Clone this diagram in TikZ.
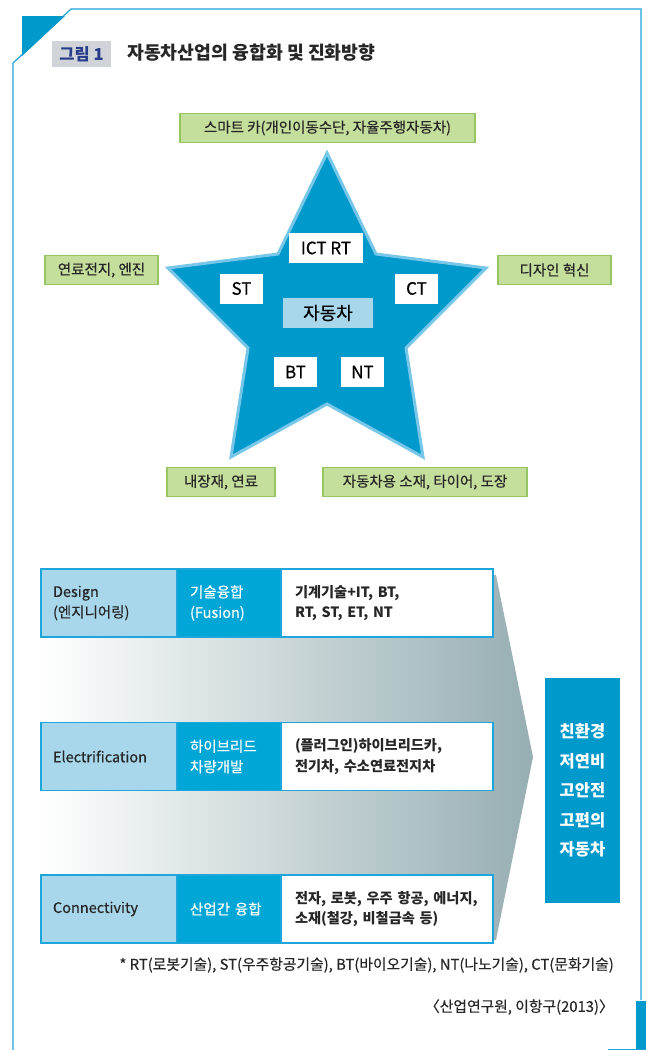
\documentclass[tikz,border=0pt]{standalone}
\usepackage{fontspec}
\setmainfont{Noto Sans CJK KR}
\newfontfamily\medfont{Noto Sans CJK KR}[FakeBold=0.4]
\usepackage{tikz}
\usetikzlibrary{calc}
\usetikzlibrary{positioning}
\tikzset{>=latex}

\definecolor{frameblue}{RGB}{30,165,220}
\definecolor{deepblue}{RGB}{0,153,204}
\definecolor{starline}{RGB}{120,198,232}
\definecolor{paleblue}{RGB}{168,215,236}
\definecolor{midblue}{RGB}{0,166,214}
\definecolor{leafgreen}{RGB}{196,222,156}
\definecolor{leafedge}{RGB}{150,198,100}
\definecolor{arrowgrey}{RGB}{150,174,178}
\definecolor{titlegrey}{RGB}{208,211,215}
\definecolor{titlenavy}{RGB}{40,60,140}

\tikzset{greenbox/.style = {fill=leafgreen, draw=leafedge, line width=1.5pt, minimum height=29pt, inner sep=0pt, font=\fontsize{14.5}{16}\selectfont\medfont, text=black!85}}
\tikzset{techbox/.style = {fill=white, minimum width=43pt, minimum height=30pt, inner sep=0pt, font=\fontsize{17}{18}\selectfont\medfont}}
\tikzset{cella/.style = {fill=paleblue, draw=frameblue, line width=1.2pt, outer sep=0pt, minimum height=68pt, text width=112pt, inner xsep=12pt, align=left, font=\fontsize{14.5}{20.5}\selectfont\medfont, text=black!85}}
\tikzset{cellb/.style = {fill=midblue, draw=frameblue, line width=1.2pt, outer sep=0pt, minimum height=68pt, text width=78pt, inner xsep=13pt, align=left, font=\fontsize{14.5}{20.5}\selectfont\medfont, text=white}}
\tikzset{cellc/.style = {fill=white, draw=frameblue, line width=1.2pt, outer sep=0pt, minimum height=68pt, text width=184pt, inner xsep=14pt, align=left, font=\fontsize{14.2}{20.5}\selectfont\bfseries, text=black!85}}

\begin{document}
\begin{tikzpicture}[x=1pt, y=-1pt]
                    \useasboundingbox (0,0) rectangle (646,1050);

                    % Frame
                    \draw [frameblue, line width=1.2pt] (641,1000) -- (641,9) -- (71,9) -- (13,63) -- (13,1050);
                    \fill [deepblue] (22,16) -- (65,16) -- (22,56) -- cycle;
                    \fill [deepblue] (636,1001) rectangle (646,1050);
                    \draw [frameblue, thin] (608,1049.5) -- (646,1049.5);

                    % Title
                    \node [fill=titlegrey, minimum width=59pt, minimum height=26pt, inner sep=0pt, text=titlenavy, font=\fontsize{16.5}{18}\selectfont\bfseries] (fig) at (81.5,54) {그림 1};
                    \node [anchor=west, inner sep=0pt, font=\fontsize{18.3}{20}\selectfont\bfseries, text=black!85] (title) at (127,53) {자동차산업의 융합화 및 진화방향};

                    % Star
                    \coordinate (s1) at (327,153);
                    \coordinate (s2) at (376,254);
                    \coordinate (s3) at (486,268);
                    \coordinate (s4) at (406,348);
                    \coordinate (s5) at (423,457);
                    \coordinate (s6) at (327,404);
                    \coordinate (s7) at (231,457);
                    \coordinate (s8) at (248,348);
                    \coordinate (s9) at (168,268);
                    \coordinate (s10) at (278,254);
                    \filldraw [fill=deepblue, draw=starline, line width=3pt, line join=miter]
                      (s1) -- (s2) -- (s3) -- (s4) -- (s5) -- (s6) -- (s7) -- (s8) -- (s9) -- (s10) -- cycle;

                    % Technologies in the star
                    \node [techbox, minimum width=74pt] (ict) at (326,248) {ICT RT};
                    \node [techbox] (st) at (241.5,288.5) {ST};
                    \node [techbox] (ct) at (416.5,288.5) {CT};
                    \node [techbox, fill=paleblue, minimum width=90pt, font=\fontsize{18}{20}\selectfont\medfont] (car) at (328,313) {자동차};
                    \node [techbox] (bt) at (295.5,372) {BT};
                    \node [techbox] (nt) at (362.5,372) {NT};

                    % Fields round the star
                    \node [greenbox, minimum width=295pt] (smart) at (327.5,128) {스마트 카(개인이동수단, 자율주행자동차)};
                    \node [greenbox, minimum width=113pt] (fuel) at (101.5,270) {연료전지, 엔진};
                    \node [greenbox, minimum width=113pt] (style) at (554.5,270) {디자인 혁신};
                    \node [greenbox, minimum width=108pt] (inner) at (221,482) {내장재, 연료};
                    \node [greenbox, minimum width=204pt] (matter) at (425,482) {자동차용 소재, 타이어, 도장};

                    % Grey arrow behind the rows
                    \shade [left color=white, right color=arrowgrey] (41,575) -- (496,575) -- (533,757) -- (496,940) -- (41,940) -- cycle;

                    % Row Design
                    \node [cella] (d1) at (109,603) {Design\\(엔지니어링)};
                    \node [cellb, right=0pt of d1] (d2) {기술융합\\(Fusion)};
                    \node [cellc, right=0pt of d2] (d3) {기계기술+IT, BT,\\RT, ST, ET, NT};

                    % Row Electrification
                    \node [cella] (e1) at (109,756.5) {Electrification};
                    \node [cellb, right=0pt of e1] (e2) {하이브리드\\차량개발};
                    \node [cellc, right=0pt of e2] (e3) {(플러그인)하이브리드카,\\전기차, 수소연료전지차};

                    % Row Connectivity
                    \node [cella] (c1) at (109,909) {Connectivity};
                    \node [cellb, right=0pt of c1] (c2) {산업간 융합};
                    \node [cellc, right=0pt of c2] (c3) {전자, 로봇, 우주 항공, 에너지,\\소재(철강, 비철금속 등)};

                    % Goal
                    \node [fill=deepblue, minimum width=75pt, minimum height=225pt, inner sep=0pt, align=center, text=white, font=\fontsize{16.5}{29.5}\selectfont\bfseries] (goal) at (582.5,790.5) {친환경\\저연비\\고안전\\고편의\\자동차};

                    % Notes
                    \node [anchor=east, inner sep=0pt, font=\fontsize{14.8}{16}\selectfont\medfont, text=black!85] (note) at (614,965) {* RT(로봇기술), ST(우주항공기술), BT(바이오기술), NT(나노기술), CT(문화기술)};
                    \node [anchor=east, inner sep=0pt, font=\fontsize{14.8}{16}\selectfont\medfont, text=black!85] (source) at (614,1007) {〈산업연구원, 이항구(2013)〉};
                 \end{tikzpicture}
\end{document}
